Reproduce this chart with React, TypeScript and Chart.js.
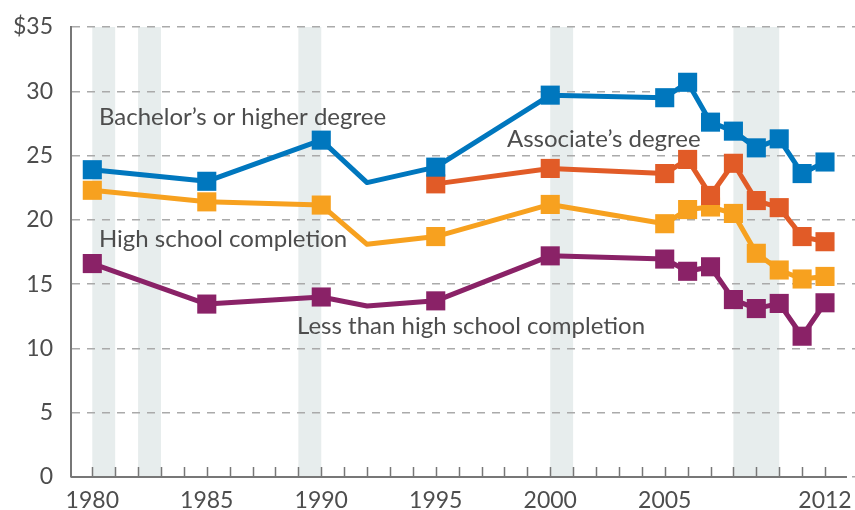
import React, { useEffect, useRef } from 'react';
import { Chart, registerables } from 'chart.js';

Chart.register(...registerables);

// ---- Data ----
const years = [1980, 1985, 1990, 1992, 1995, 2000, 2005, 2006, 2007, 2008, 2009, 2010, 2011, 2012];
const bachelors = [23.9, 23.0, 26.2, 22.9, 24.1, 29.7, 29.5, 30.7, 27.6, 26.9, 25.6, 26.3, 23.6, 24.5];
const associates = [null, null, null, null, 22.8, 24.0, 23.6, 24.7, 21.9, 24.4, 21.5, 20.95, 18.7, 18.3];
const highSchool = [22.3, 21.4, 21.15, 18.1, 18.7, 21.2, 19.7, 20.8, 21.0, 20.5, 17.4, 16.1, 15.4, 15.6];
const lessThanHS = [16.6, 13.45, 14.0, 13.3, 13.7, 17.2, 16.95, 16.0, 16.35, 13.8, 13.1, 13.5, 10.95, 13.55];
const unmarkedYears = [1992];

const seriesNames = [
  "Bachelor\u2019s or higher degree",
  "Associate\u2019s degree",
  'High school completion',
  'Less than high school completion',
];
// label anchor (left x in years, baseline y in dollars)
const labelYears = [1980.29, 1998.11, 1980.29, 1988.94];
const labelValues = [27.38, 25.67, 17.89, 11.12];

const xTickLabels = [1980, 1985, 1990, 1995, 2000, 2005, 2012];
const minorTickYears = Array.from({ length: 33 }, (_, i) => 1980 + i);
const yTicks = [0, 5, 10, 15, 20, 25, 30, 35];
const recessions = [
  [1980, 1981],
  [1982, 1983],
  [1989, 1990],
  [2000, 2001],
  [2008, 2010],
];

// ---- Styles ----
const COLORS = ['#0077be', '#e15b27', '#f7a11f', '#8a2267'];
const TEXT = '#4d4d4d';
const FONT = 'Lato, "Open Sans", sans-serif';

const decorPlugin = {
  id: 'decor',
  beforeDraw(chart: any) {
    const { ctx, chartArea, scales } = chart;
    const x = scales.x;
    ctx.save();
    ctx.fillStyle = '#e7eded';
    for (const [a, b] of recessions) {
      const xa = x.getPixelForValue(a);
      const xb = x.getPixelForValue(b);
      ctx.fillRect(xa, chartArea.top, xb - xa, chartArea.bottom - chartArea.top);
    }
    ctx.restore();
  },
  beforeDatasetsDraw(chart: any) {
    const { ctx, chartArea, scales } = chart;
    const x = scales.x;
    const y0 = scales.y.getPixelForValue(0);
    ctx.save();
    ctx.strokeStyle = '#777';
    ctx.lineWidth = 2;
    ctx.beginPath();
    ctx.moveTo(chartArea.left, y0);
    ctx.lineTo(x.getPixelForValue(2012.96), y0);
    ctx.stroke();
    ctx.lineWidth = 1.5;
    ctx.beginPath();
    for (const yr of minorTickYears) {
      const px = Math.round(x.getPixelForValue(yr)) + 0.5;
      ctx.moveTo(px, y0);
      ctx.lineTo(px, y0 - 10);
    }
    ctx.stroke();
    ctx.restore();
  },
  afterDatasetsDraw(chart: any) {
    const { ctx, scales } = chart;
    ctx.save();
    ctx.fillStyle = TEXT;
    ctx.font = `24px ${FONT}`;
    ctx.textAlign = 'left';
    ctx.textBaseline = 'alphabetic';
    seriesNames.forEach((name, i) => {
      ctx.fillText(name, scales.x.getPixelForValue(labelYears[i]), scales.y.getPixelForValue(labelValues[i]));
    });
    ctx.restore();
  },
};

function makeDataset(label: string, data: (number | null)[], color: string) {
  return {
    label,
    data: years.map((yr, i) => ({ x: yr, y: data[i] })),
    borderColor: color,
    backgroundColor: color,
    borderWidth: 5,
    borderJoinStyle: 'round' as const,
    pointStyle: 'rect' as const,
    pointRadius: years.map((yr) => (unmarkedYears.includes(yr) ? 0 : 13.5)),
    pointBorderWidth: 0,
    pointBackgroundColor: color,
    tension: 0,
    spanGaps: false,
  };
}

const noPad = (s: any) => {
  s.paddingLeft = 0;
  s.paddingRight = 0;
  s.paddingTop = 0;
  s.paddingBottom = 0;
};

export default function App() {
  const ref = useRef<HTMLCanvasElement>(null);

  useEffect(() => {
    if (!ref.current) return;
    const chart = new Chart(ref.current, {
      type: 'line',
      data: {
        datasets: [
          makeDataset(seriesNames[0], bachelors, COLORS[0]),
          makeDataset(seriesNames[1], associates, COLORS[1]),
          makeDataset(seriesNames[2], highSchool, COLORS[2]),
          makeDataset(seriesNames[3], lessThanHS, COLORS[3]),
        ],
      },
      options: {
        animation: false,
        responsive: false,
        maintainAspectRatio: false,
        devicePixelRatio: 1,
        layout: { autoPadding: false, padding: { top: 27, right: 0, left: 0, bottom: 0 } },
        plugins: { legend: { display: false }, tooltip: { enabled: false } },
        scales: {
          x: {
            type: 'linear',
            min: 1979.07,
            max: 2013.31,
            afterFit: (s: any) => {
              s.height = 33;
              noPad(s);
            },
            afterBuildTicks: (s: any) => {
              s.ticks = xTickLabels.map((v) => ({ value: v }));
            },
            grid: { display: false, drawTicks: false },
            border: { display: false },
            ticks: {
              font: { family: FONT, size: 23 },
              color: TEXT,
              padding: 10,
              maxRotation: 0,
              autoSkip: false,
              callback: (v: any) => String(v),
            },
          },
          y: {
            min: 0,
            max: 35,
            afterFit: (s: any) => {
              s.width = 71;
              noPad(s);
            },
            afterBuildTicks: (s: any) => {
              s.ticks = yTicks.map((v) => ({ value: v }));
            },
            grid: { color: '#aaaaaa', lineWidth: 1.5, drawTicks: false },
            border: { display: true, color: '#777', width: 2, dash: [8, 7] },
            ticks: {
              font: { family: FONT, size: 23 },
              color: TEXT,
              padding: 18,
              callback: (v: any) => (v === 35 ? '$35' : String(v)),
            },
          },
        },
      },
      plugins: [decorPlugin],
    });
    return () => chart.destroy();
  }, []);

  return (
    <div style={{ position: 'fixed', left: 0, top: 0, width: 855, height: 510 }}>
      <canvas ref={ref} width={855} height={510} style={{ width: 855, height: 510, display: 'block' }} />
    </div>
  );
}
